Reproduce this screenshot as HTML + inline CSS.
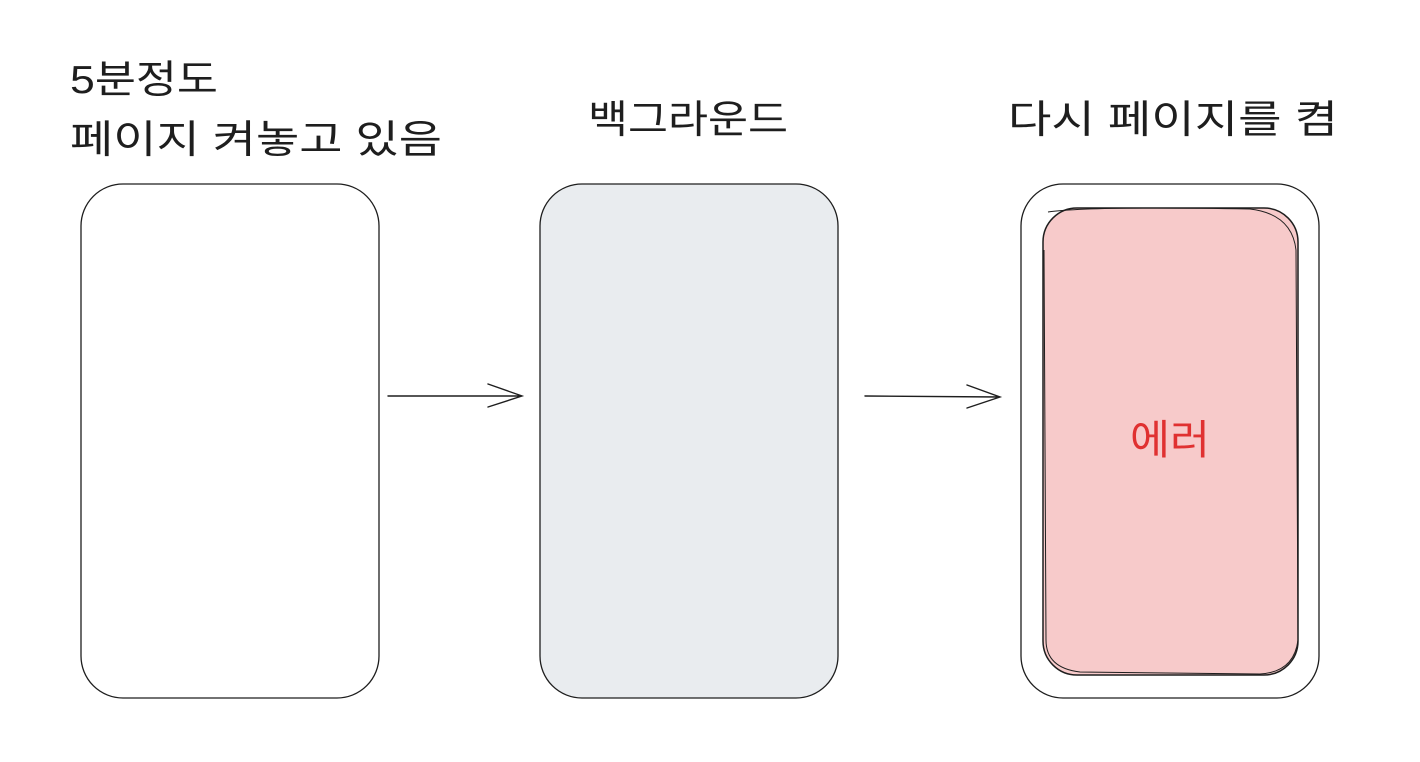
<!DOCTYPE html>
<html><head><meta charset="utf-8"><style>
html,body{margin:0;padding:0;background:#fff;width:1420px;height:762px;overflow:hidden}
text{font-family:"Liberation Sans","Noto Sans CJK KR",sans-serif;fill:#1e1e1e}
</style></head><body>
<svg width="1420" height="762" viewBox="0 0 1420 762" xmlns="http://www.w3.org/2000/svg">
<text x="70" y="93" font-size="39" textLength="148" lengthAdjust="spacingAndGlyphs">5분정도</text>
<text x="70" y="153" font-size="39" textLength="372" lengthAdjust="spacingAndGlyphs">페이지  켜놓고  있음</text>
<text x="588" y="133" font-size="39" textLength="200" lengthAdjust="spacingAndGlyphs">백그라운드</text>
<text x="1008" y="133" font-size="39" textLength="330" lengthAdjust="spacingAndGlyphs">다시  페이지를  켬</text>
<rect x="81" y="184" width="298" height="514" rx="42" fill="#fff" stroke="#1e1e1e" stroke-width="1.3"/>
<rect x="540" y="184" width="298" height="514" rx="42" fill="#e9ecef" stroke="#1e1e1e" stroke-width="1.3"/>
<rect x="1021" y="184" width="298" height="514" rx="42" fill="#fff" stroke="#1e1e1e" stroke-width="1.3"/>
<rect x="1043" y="208" width="255" height="467" rx="34" fill="#f7caca" stroke="#1e1e1e" stroke-width="1.5"/>
<path d="M1048 212 Q1090 206 1250 209 Q1292 214 1296 250 L1298 640 Q1294 672 1260 674 L1080 672 Q1046 668 1046 640 L1044 250" fill="none" stroke="#1e1e1e" stroke-width="1"/>
<text x="1130" y="454" font-size="41" textLength="80" lengthAdjust="spacingAndGlyphs" style="fill:#e03131">에러</text>
<g stroke="#1e1e1e" stroke-width="1.4" fill="none" stroke-linecap="round">
<path d="M388 396 L522 396 M488 384 L522 396 L488 407"/>
<path d="M865 396 L1000 397 M967 385 L1000 397 L967 408"/>
</g>
</svg>
</body></html>
